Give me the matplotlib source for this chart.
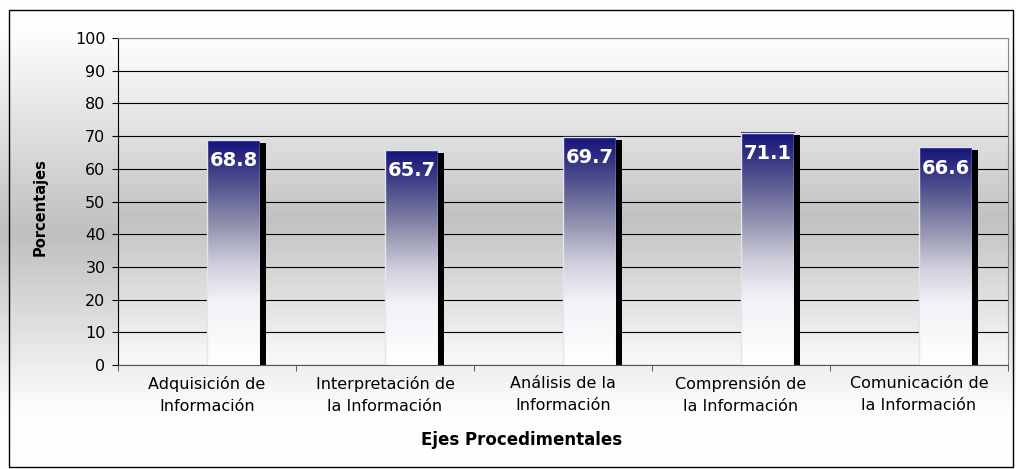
import numpy as np
import matplotlib.pyplot as plt
from matplotlib.colors import LinearSegmentedColormap
from matplotlib.patches import Rectangle

# chart data
categories = ['Adquisición de\nInformación', 'Interpretación de\nla Información',
              'Análisis de la\nInformación', 'Comprensión de\nla Información',
              'Comunicación de\nla Información']
values = [68.8, 65.7, 69.7, 71.1, 66.6]
y_ticks = list(range(0, 101, 10))
x_title = 'Ejes Procedimentales'
y_title = 'Porcentajes'

plt.rcParams['font.family'] = ['DejaVu Sans']

W, H = 1016, 469
fig = plt.figure(figsize=(W / 100, H / 100), dpi=100)

# figure background: white -> gray -> white gradient with a thin border
bg = fig.add_axes([0, 0, 1, 1], zorder=-10)
fig_cmap = LinearSegmentedColormap.from_list(
    'figbg', [(0, (1, 1, 1)), (0.08, (0.99, 0.99, 0.99)), (0.5, (0.75, 0.75, 0.75)),
              (0.87, (0.99, 0.99, 0.99)), (1, (1, 1, 1))])
bg.imshow(np.linspace(0, 1, 256).reshape(-1, 1), cmap=fig_cmap, aspect='auto',
          extent=[0, 1, 0, 1])
bg.add_patch(Rectangle((9 / W, 1 - 467 / H), (1013 - 9) / W, (467 - 10) / H,
                       fill=False, edgecolor='black', lw=1, transform=bg.transAxes))
bg.set_xlim(0, 1)
bg.set_ylim(0, 1)
bg.axis('off')

# plot area
ax = fig.add_axes([118 / W, 1 - 365 / H, 890 / W, 327 / H])
n = len(categories)
x = np.arange(n)
bw = 0.30

plot_cmap = LinearSegmentedColormap.from_list(
    'plotbg', [(0, (0.995, 0.995, 0.995)), (0.3, (0.88, 0.88, 0.88)),
               (0.55, (0.76, 0.76, 0.76)), (0.8, (0.88, 0.88, 0.88)),
               (1, (0.98, 0.98, 0.98))])
ax.imshow(np.linspace(0, 1, 256).reshape(-1, 1), cmap=plot_cmap, aspect='auto',
          extent=[-0.5, n - 0.5, 0, 100], zorder=0)

# bars with a navy -> white gradient
bar_cmap = LinearSegmentedColormap.from_list(
    'bar', [(0, (0.08, 0.08, 0.49)), (0.06, (0.15, 0.15, 0.5)),
            (0.2, (0.33, 0.33, 0.56)), (0.4, (0.6, 0.6, 0.71)),
            (0.56, (0.82, 0.82, 0.87)), (0.72, (0.95, 0.95, 0.97)),
            (1, (1, 1, 1))])
bars = ax.bar(x, values, width=bw, align='edge', color='none',
              edgecolor='#e4e4ee', lw=1, zorder=3)
for b in bars:
    ax.imshow(np.linspace(0, 1, 256).reshape(-1, 1), cmap=bar_cmap, aspect='auto',
              extent=[b.get_x(), b.get_x() + b.get_width(), 0, b.get_height()],
              zorder=2.9)

# black shadow on the right side of each bar
ax.bar(x + bw, np.array(values) - 0.9, width=0.03, align='edge', color='black',
       zorder=3)

# value labels
for xi, v in zip(x, values):
    ax.annotate(f'{v:.1f}', xy=(xi + bw / 2, v), xytext=(0, -15),
                textcoords='offset points', ha='center', va='center',
                color='white', fontweight='bold', fontsize=14, zorder=5)

ax.set_xlim(-0.5, n - 0.5)
ax.set_ylim(0, 100)
ax.set_yticks(y_ticks)
ax.yaxis.grid(True, color='black', lw=0.8)
ax.set_axisbelow(True)

ax.set_xticks(x)
ax.set_xticklabels(categories, fontsize=11.5, linespacing=1.6)
ax.set_xticks(np.arange(n + 1) - 0.5, minor=True)
ax.tick_params(axis='x', which='major', length=0, pad=8)
ax.tick_params(axis='x', which='minor', length=4, color='#444444')
ax.tick_params(axis='y', length=4, labelsize=11.5, pad=5)

ax.spines['left'].set_color('black')
ax.spines['bottom'].set_color('#555555')
ax.spines['top'].set_color('#888888')
ax.spines['right'].set_color('#888888')

fig.text(522 / W, 1 - 440 / H, x_title, ha='center', va='center',
         fontweight='bold', fontsize=12)
fig.text(40 / W, 1 - 207 / H, y_title, ha='center', va='center', rotation=90,
         fontweight='bold', fontsize=10.5)

fig.savefig('out.png', dpi=100)
